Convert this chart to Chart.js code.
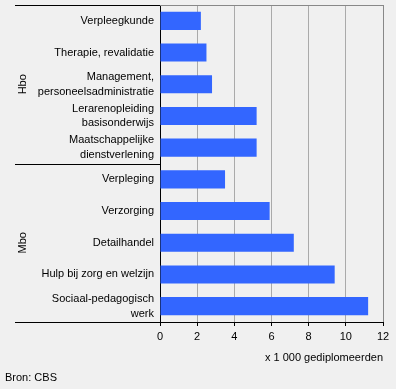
<!DOCTYPE html>
<html>
<head>
<meta charset="utf-8">
<script src="https://cdn.jsdelivr.net/npm/chart.js@4"></script>
<style>
  html, body { margin: 0; padding: 0; background: #f0f0f0; }
  #wrap { width: 396px; height: 389px; }
</style>
</head>
<body>
<div id="wrap"><canvas id="chartDiplomas" width="396" height="389"></canvas></div>
<script>
// Opleidingen (labels met regelafbreking)
const opleidingen = [
    'Verpleegkunde',
    'Therapie, revalidatie',
    ['Management,', 'personeelsadministratie'],
    ['Lerarenopleiding', 'basisonderwijs'],
    ['Maatschappelijke', 'dienstverlening'],
    'Verpleging',
    'Verzorging',
    'Detailhandel',
    'Hulp bij zorg en welzijn',
    ['Sociaal-pedagogisch', 'werk']
];
// x 1 000 gediplomeerden
const gediplomeerden = [2.2, 2.5, 2.8, 5.2, 5.2, 3.5, 5.9, 7.2, 9.4, 11.2];
const niveaus = ['Hbo', 'Mbo'];
const niveauAantal = [5, 5];
const xTicks = [0, 2, 4, 6, 8, 10, 12];

const fontFam = '"Liberation Sans", Arial, sans-serif';

// Groepslijnen, niveau-labels en bron
const groepPlugin = {
    id: 'groepen',
    afterDraw(chart) {
        const ctx = chart.ctx;
        const y = chart.scales.y;
        const area = chart.chartArea;
        ctx.save();
        ctx.lineWidth = 1;
        // grijze bovenrand van het plotgebied
        ctx.strokeStyle = '#888888';
        ctx.beginPath();
        ctx.moveTo(area.left, Math.round(area.top) + 0.5);
        ctx.lineTo(area.right, Math.round(area.top) + 0.5);
        ctx.stroke();

        ctx.strokeStyle = '#000000';
        ctx.fillStyle = '#000000';
        ctx.font = '11px ' + fontFam;
        let start = 0;
        let top = area.top;
        const lijnen = [area.top];
        niveaus.forEach((naam, i) => {
            const eind = start + niveauAantal[i] - 1;
            const bottom = eind < opleidingen.length - 1
                ? (y.getPixelForValue(eind) + y.getPixelForValue(eind + 1)) / 2
                : area.bottom;
            lijnen.push(bottom);
            ctx.save();
            ctx.translate(23, (top + bottom) / 2);
            ctx.rotate(-Math.PI / 2);
            ctx.textAlign = 'center';
            ctx.textBaseline = 'middle';
            ctx.fillText(naam, 0, 0);
            ctx.restore();
            top = bottom;
            start = eind + 1;
        });
        lijnen.forEach(ly => {
            const py = Math.round(ly) + 0.5;
            ctx.beginPath();
            ctx.moveTo(15, py);
            ctx.lineTo(area.left, py);
            ctx.stroke();
        });

        ctx.textAlign = 'left';
        ctx.textBaseline = 'middle';
        ctx.fillText('Bron: CBS', 5, 378);
        ctx.restore();
    }
};

const ctxDipl = document.getElementById('chartDiplomas').getContext('2d');
new Chart(ctxDipl, {
    type: 'bar',
    data: {
        labels: opleidingen,
        datasets: [{
            data: gediplomeerden,
            backgroundColor: '#3366ff',
            barPercentage: 0.57,
            categoryPercentage: 1
        }]
    },
    options: {
        indexAxis: 'y',
        responsive: false,
        animation: false,
        devicePixelRatio: 1,
        layout: {
            padding: { top: 5, right: 13, left: 0, bottom: 0 }
        },
        plugins: {
            legend: { display: false },
            tooltip: { enabled: false }
        },
        scales: {
            y: {
                afterFit: s => {
                    s.width = 160;
                    s.paddingTop = 0;
                    s.paddingBottom = 0;
                },
                grid: { display: false, drawTicks: false },
                border: { color: '#000000' },
                ticks: {
                    autoSkip: false,
                    color: '#000000',
                    padding: 6,
                    font: { family: fontFam, size: 11, lineHeight: 1.35 }
                }
            },
            x: {
                min: 0,
                max: 12,
                afterFit: s => { s.height = 67; },
                afterBuildTicks: s => { s.ticks = xTicks.map(v => ({ value: v })); },
                grid: {
                    color: c => c.tick && c.tick.value === 12 ? '#888888' : '#aaaaaa',
                    tickColor: '#000000',
                    tickLength: 4
                },
                border: { color: '#000000' },
                ticks: {
                    color: '#000000',
                    padding: 4,
                    font: { family: fontFam, size: 11 }
                },
                title: {
                    display: true,
                    text: 'x 1 000 gediplomeerden',
                    align: 'end',
                    color: '#000000',
                    font: { family: fontFam, size: 11 },
                    padding: { top: 0, bottom: 24 }
                }
            }
        }
    },
    plugins: [groepPlugin]
});
</script>
</body>
</html>
